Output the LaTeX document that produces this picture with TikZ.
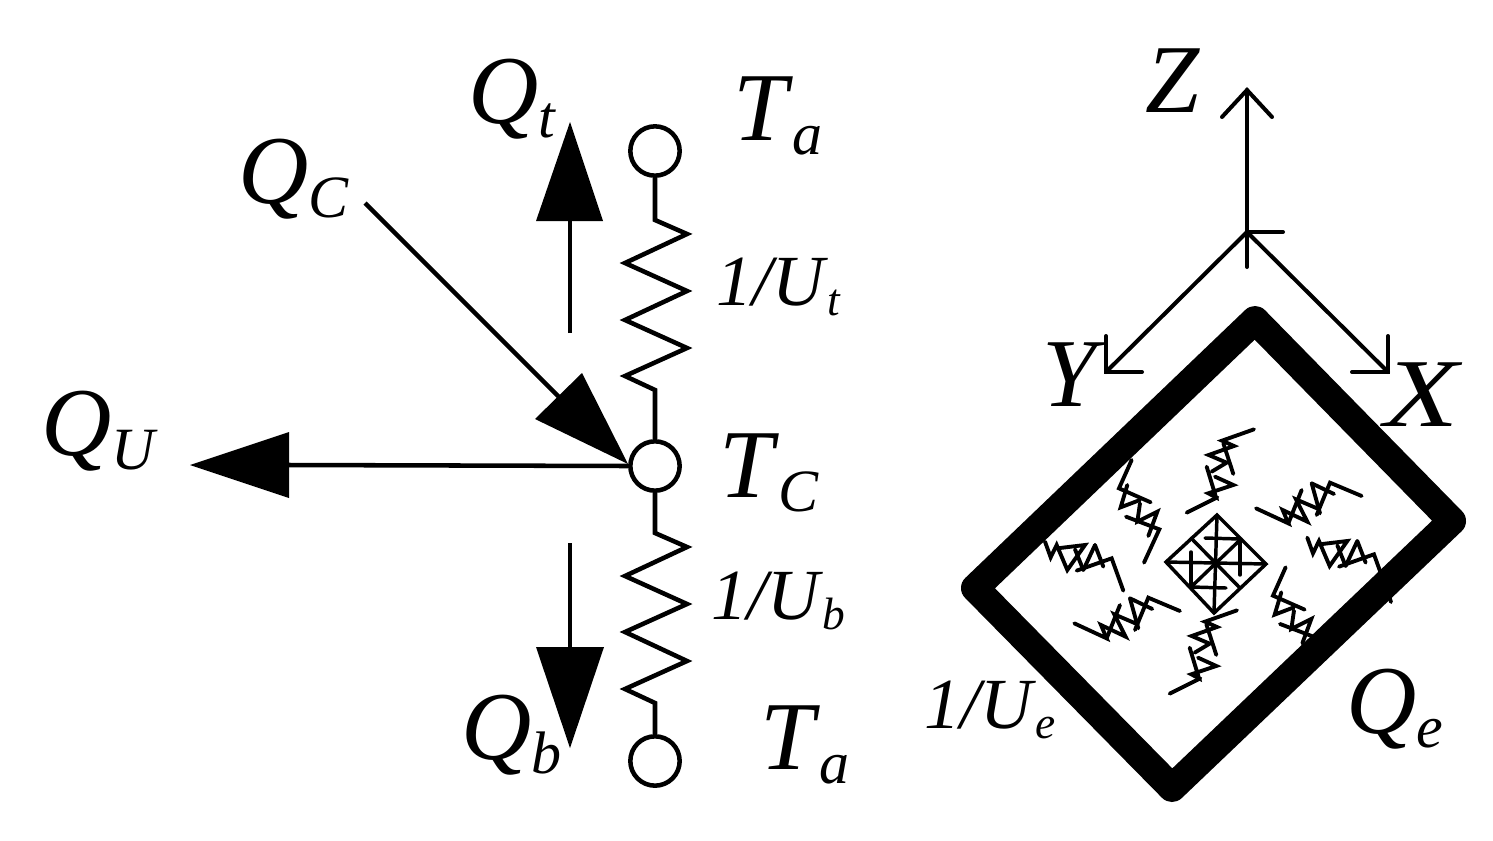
\documentclass[tikz,border=0pt]{standalone}
\usepackage{fontspec}
\setmainfont{Liberation Serif}
\newcommand{\biglab}[2]{\fontsize{73}{73}\selectfont\textit{#1}\raisebox{-10.5pt}{\fontsize{45}{45}\selectfont\textit{#2}}}
\newcommand{\smalab}[2]{\fontsize{54}{54}\selectfont\textit{#1}\raisebox{-7.5pt}{\fontsize{34}{34}\selectfont\textit{#2}}}
\tikzset{
  term/.style={circle,draw=black,fill=white,line width=3.4pt,minimum size=37pt,inner sep=0pt},
  wire/.style={line width=3.4pt,line join=miter},
  flow/.style={line width=3.4pt},
  head/.style={fill=black,draw=none},
  axis/.style={line width=3pt,line cap=round,line join=miter},
  wall/.style={line width=21pt,line join=round},
  coil/.style={line width=2.9pt,line cap=round,line join=miter},
  glyph/.style={line width=2.6pt,line cap=round,line join=miter},
  txt/.style={anchor=base west,inner sep=0pt,outer sep=0pt,text=black}
}
\newcommand{\coilT}{
  \draw[coil] (222,28)--(126,62)--(162,78)--(86,105)--(140,128)--(95,155);
  \draw[coil] (130,70)--(160,162);
  \draw[coil] (80,140)--(108,232)--(85,220)--(160,195)--(105,170);
  \draw[coil] (112,232)--(20,278);
}
\newcommand{\coilH}{
  \draw[coil] (18,115)--(115,160)--(98,120)--(172,155)--(138,88)--(208,118);
  \draw[coil] (115,160)--(155,60);
  \draw[coil] (200,135)--(240,38)--(335,78);
  \draw[coil] (185,40)--(210,130);
  \draw[coil] (185,40)--(252,72);
}
\newcommand{\coilU}{
  \draw[coil] (275,30)--(237,115)--(332,157);
  \draw[coil] (262,105)--(242,172)--(300,150);
  \draw[coil] (300,160)--(292,215)--(352,185)--(325,258);
  \draw[coil] (258,200)--(358,238)--(312,338);
}
\newcommand{\coilL}{
  \draw[coil] (15,275)--(32,322)--(50,285)--(82,360)--(135,285)--(52,295);
  \draw[coil] (105,298)--(130,360);
  \draw[coil] (165,285)--(130,360);
  \draw[coil] (165,285)--(190,350);
  \draw[coil] (110,362)--(215,325)--(250,422);
}
\begin{document}
\begin{tikzpicture}[x=0.75pt,y=-0.75pt]
\useasboundingbox (0,0) rectangle (1493,840);
% resistor network
\node[term] (ct) at (655,151) {};
\node[term] (cm) at (655,466) {};
\node[term] (cb) at (655,761) {};
\draw[wire] (ct.south) -- (655,220) -- (687,234) -- (625,263) -- (687,291) -- (625,320) -- (687,348) -- (625,376) -- (655,390) -- (cm.north);
\draw[wire] (cm.south) -- (655,533) -- (687,547) -- (625,576) -- (687,604) -- (625,632) -- (687,661) -- (625,689) -- (655,703) -- (cb.north);
% heat flows
\coordinate (qtS) at (570,333); \coordinate (qtB) at (570,220);
\draw[flow] (qtS) -- (qtB);
\fill[head] (570,122) -- (603,221) -- (536,221) -- cycle;
\coordinate (qbS) at (570,543); \coordinate (qbB) at (570,648);
\draw[flow] (qbS) -- (qbB);
\fill[head] (536,647) -- (604,647) -- (570,748) -- cycle;
\coordinate (quB) at (288,465);
\draw[flow] (cm.west) -- (quB);
\fill[head] (190,465) -- (289,432) -- (289,498) -- cycle;
\coordinate (qcS) at (365,203); \coordinate (qcB) at (560,398);
\draw[flow] (qcS) -- (qcB);
\fill[head] (628,464) -- (535,419) -- (582,373) -- cycle;
% labels
\node[txt] (lQt) at (468,123) {\biglab{Q}{t}};
\node[txt] (lQc) at (238,203) {\biglab{Q}{C}};
\node[txt] (lQu) at (41,455) {\biglab{Q}{U}};
\node[txt] (lQb) at (461,759) {\biglab{Q}{b}};
\node[txt] (lTa) at (733,140) {\biglab{T}{a}};
\node[txt] (lTc) at (719,497) {\biglab{T}{C}};
\node[txt] (lTb) at (760,769) {\biglab{T}{a}};
\node[txt] (lUt) at (716,305) {\smalab{1/U}{t}};
\node[txt] (lUb) at (711,619) {\smalab{1/U}{b}};
\node[txt] (lUe) at (924,728) {\smalab{1/U}{e}};
\node[txt] (lQe) at (1346,733) {\biglab{Q}{e}};
\node[txt] (lZ) at (1145,112) {\biglab{Z}{}};
\node[txt] (lY) at (1042,406) {\biglab{Y}{}};
\node[txt] (lX) at (1384,426) {\scalebox{1.25}[1]{\biglab{X}{}}};
% axes
\coordinate (O) at (1247,232);
\draw[axis] (1247,267) -- (1247,90);
\draw[axis] (1222,117) -- (1247,90) -- (1272,117);
\draw[axis] (O) -- (1283,232);
\draw[axis] (O) -- (1106,372);
\draw[axis] (1106,336) -- (1106,372) -- (1142,372);
\draw[axis] (O) -- (1388,372);
\draw[axis] (1388,336) -- (1388,372) -- (1352,372);
% springs
\begin{scope}[shift={(1180,420)},scale=0.3333]\coilT\end{scope}
\begin{scope}[shift={(1163,601)},scale=0.3333]\coilT\end{scope}
\begin{scope}[shift={(1250,470)},scale=0.3333]\coilH\end{scope}
\begin{scope}[shift={(1068.3,585)},scale=0.3333]\coilH\end{scope}
\begin{scope}[shift={(1040,450)},scale=0.3333]\coilU\coilL\end{scope}
\begin{scope}[shift={(1194,557.3)},scale=0.3333]\coilU\end{scope}
\begin{scope}[shift={(1302.3,446)},scale=0.3333]\coilL\end{scope}
\coordinate (tickA) at (1385.7,586.7); \coordinate (tickB) at (1391,602);
\draw[coil] (tickA) -- (tickB);
% enclosure
\draw[wall] (975,588) -- (1255,320) -- (1452,521) -- (1172,788) -- cycle;
% central glyph
\draw[glyph] (1217,515) -- (1266,564) -- (1214,613) -- (1166,562) -- cycle;
\draw[glyph] (1217,515) -- (1214,613);
\draw[glyph] (1166,562) -- (1266,564);
\draw[glyph] (1191,538) -- (1240,588);
\draw[glyph] (1241,539) -- (1191,587);
\draw[glyph] (1205,538) -- (1240,539);
\draw[glyph] (1191,552) -- (1191,587);
\draw[glyph] (1240,540) -- (1240,575);
\draw[glyph] (1192,587) -- (1226,588);
\end{tikzpicture}
\end{document}
